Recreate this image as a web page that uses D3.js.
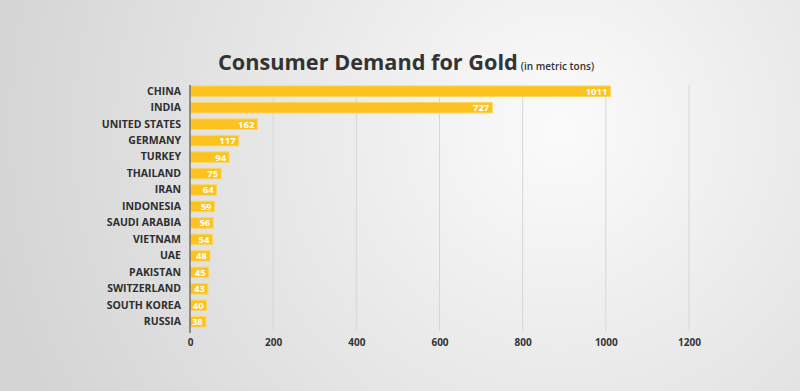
<!DOCTYPE html>
<html><head><meta charset="utf-8">
<script src="https://cdn.jsdelivr.net/npm/d3@7"></script>
<style>html,body{margin:0;padding:0;overflow:hidden}</style>
</head><body>
<svg id="c" width="800" height="391"></svg>
<script>
const countries = ["CHINA","INDIA","UNITED STATES","GERMANY","TURKEY","THAILAND","IRAN","INDONESIA","SAUDI ARABIA","VIETNAM","UAE","PAKISTAN","SWITZERLAND","SOUTH KOREA","RUSSIA"];
const demand = [1011,727,162,117,94,75,64,59,56,54,48,45,43,40,38];
const xTicks = [0,200,400,600,800,1000,1200];
const titleText = "Consumer Demand for Gold";
const subtitleText = "(in metric tons)";

const svg = d3.select("#c");
const W = 800, H = 391;
const defs = svg.append("defs");
const rg = defs.append("radialGradient").attr("id","bg").attr("gradientUnits","userSpaceOnUse")
  .attr("cx",560).attr("cy",130).attr("r",580);
rg.append("stop").attr("offset","0").attr("stop-color","#fbfbfb");
rg.append("stop").attr("offset","0.45").attr("stop-color","#e9e9e9");
rg.append("stop").attr("offset","1").attr("stop-color","#d4d4d4");
svg.append("rect").attr("width",W).attr("height",H).attr("fill","url(#bg)");

const x = d3.scaleLinear().domain([0,1200]).range([190,689]);
const y = d3.scaleBand().domain(countries).range([83,330]).paddingInner(0.36).paddingOuter(0.18);

// gridlines
svg.append("g").selectAll("line").data(xTicks.slice(1)).join("line")
  .attr("x1",d=>x(d)).attr("x2",d=>x(d)).attr("y1",85).attr("y2",331)
  .attr("stroke","#d6d6d6").attr("stroke-width",1);

// axis tick labels
const ax = svg.append("g").attr("transform","translate(0,331)")
  .call(d3.axisBottom(x).tickValues(xTicks).tickSize(0).tickPadding(8).tickFormat(d3.format("d")));
ax.select(".domain").remove();
ax.selectAll("text").attr("font-family","'Open Sans', sans-serif").attr("font-weight","bold")
  .attr("font-size",10).attr("fill","#333");

// bars
svg.append("g").selectAll("rect").data(countries).join("rect")
  .attr("x",x(0)).attr("y",d=>y(d)).attr("height",y.bandwidth())
  .attr("width",(d,i)=>x(demand[i])-x(0))
  .attr("fill","#fcc21f").attr("stroke","#fdd660").attr("stroke-width",1);

// value labels
svg.append("g").selectAll("text").data(countries).join("text")
  .attr("x",(d,i)=>x(demand[i])-3).attr("y",d=>y(d)+y.bandwidth()/2)
  .attr("dy","0.36em").attr("text-anchor","end")
  .attr("font-family","'Open Sans', sans-serif").attr("font-weight","bold").attr("font-size",9.5)
  .attr("fill","#fff").text((d,i)=>demand[i]);

// zero axis line
svg.append("line").attr("x1",x(0)).attr("x2",x(0)).attr("y1",85).attr("y2",333)
  .attr("stroke","#707070").attr("stroke-width",1.5);

// category labels
const ya = svg.append("g").attr("transform","translate(181,0)")
  .call(d3.axisLeft(y).tickSize(0).tickPadding(0));
ya.select(".domain").remove();
ya.selectAll("text").attr("font-family","'Open Sans', sans-serif").attr("font-weight","bold")
  .attr("font-size",10.5).attr("fill","#2e2e2e");

// title
const t = svg.append("text").attr("x",218).attr("y",70)
  .attr("font-family","'Open Sans', sans-serif").attr("font-weight","bold").attr("fill","#333");
t.append("tspan").attr("font-size",21.7).text(titleText);
t.append("tspan").attr("font-size",10).attr("dx",3).attr("font-weight","600").text(subtitleText);
</script>
</body></html>
